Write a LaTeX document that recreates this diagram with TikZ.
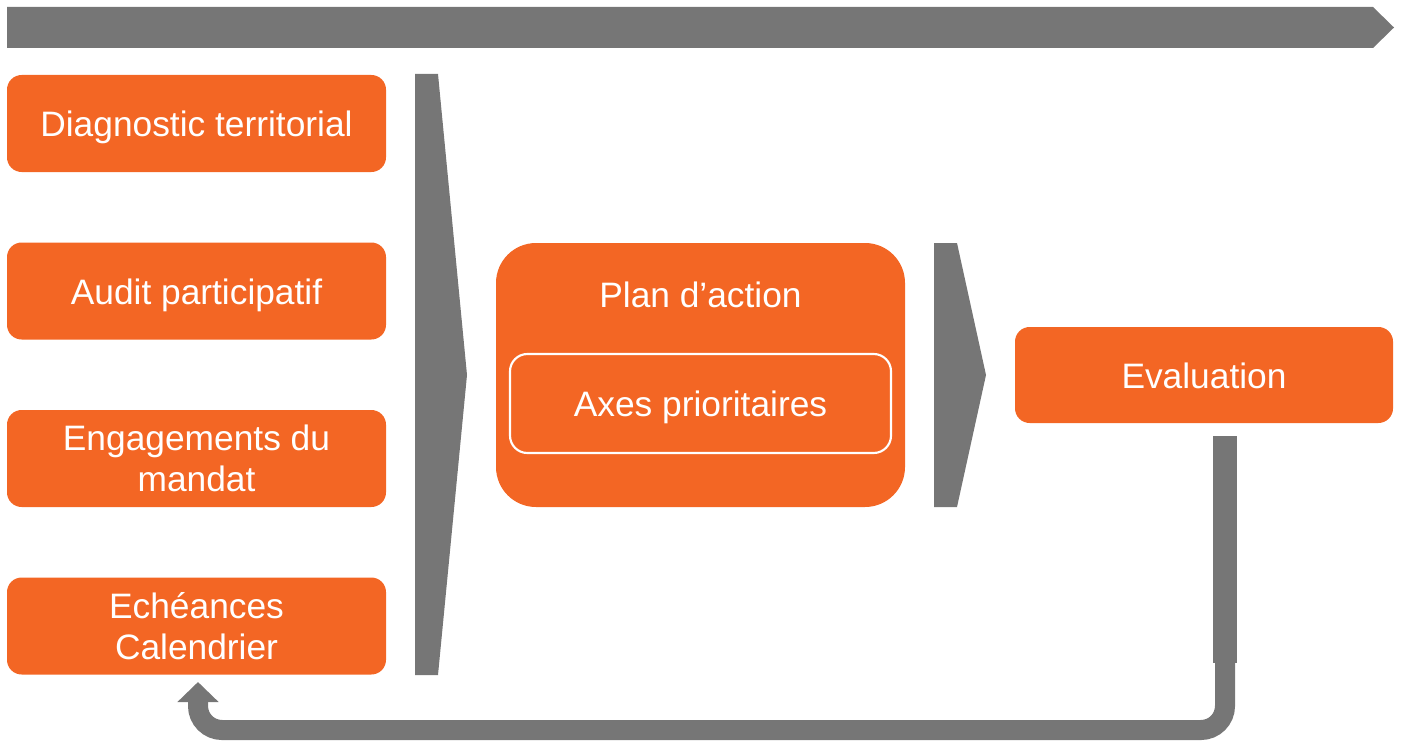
\documentclass[tikz,border=0pt]{standalone}
\usepackage{fontspec}
\setmainfont{Liberation Sans}
\usetikzlibrary{arrows.meta}
\definecolor{org}{RGB}{243,102,36}
\definecolor{gry}{RGB}{118,118,118}
\tikzset{
  txt/.style={text=white, align=center, inner sep=0pt, font=\fontsize{26.5}{31}\selectfont},
  one/.style={text height=19.5pt, text depth=0pt},
  box/.style={txt, fill=org, rounded corners=11pt, minimum width=284.25pt, minimum height=72.75pt},
  bigbox/.style={fill=org, rounded corners=30pt, minimum width=306.75pt, minimum height=198pt, inner sep=0pt},
  innerbox/.style={txt, draw=white, line width=1.6pt, rounded corners=13pt, minimum width=285.75pt, minimum height=74.25pt},
  chev/.style={fill=gry, draw=none},
  fb/.style={gry, line width=15pt, rounded corners=18pt, -{Triangle[length=15pt,width=30pt]}}
}
\begin{document}
\begin{tikzpicture}[x=0.75pt,y=-0.75pt]
\useasboundingbox (0,0) rectangle (1402,742);
% top banner
\fill[chev] (7,7) -- (1373,7) -- (1394,27.5) -- (1373,48) -- (7,48) -- cycle;
% left boxes
\node[box, one] (d1) at (196.5,123.5) {Diagnostic territorial};
\node[box, one] (d2) at (196.5,291) {Audit participatif};
\node[box] (d3) at (196.5,458.5) {Engagements du\\mandat};
\node[box] (d4) at (196.5,626) {Echéances\\Calendrier};
% left chevron
\fill[chev] (415,74) -- (438,74) -- (467,375) -- (438,675) -- (415,675) -- cycle;
% plan d'action
\node[bigbox] (plan) at (700.5,375) {};
\node[txt, one] (plant) at (700.5,294) {Plan d’action};
\node[innerbox, one] (axes) at (700.5,403.5) {Axes prioritaires};
% second chevron
\fill[chev] (934,243) -- (957,243) -- (986,375) -- (957,507) -- (934,507) -- cycle;
% evaluation
\node[box, one, minimum width=283.5pt, minimum height=72pt] (eval) at (1204,375) {Evaluation};
% feedback
\fill[gry] (1213,436) rectangle (1237,663);
\coordinate (fbA) at (1225,660);
\coordinate (fbB) at (1225,730);
\coordinate (fbC) at (198,682);
\draw[fb] (fbA) -- (fbB) -| (fbC);
\end{tikzpicture}
\end{document}
